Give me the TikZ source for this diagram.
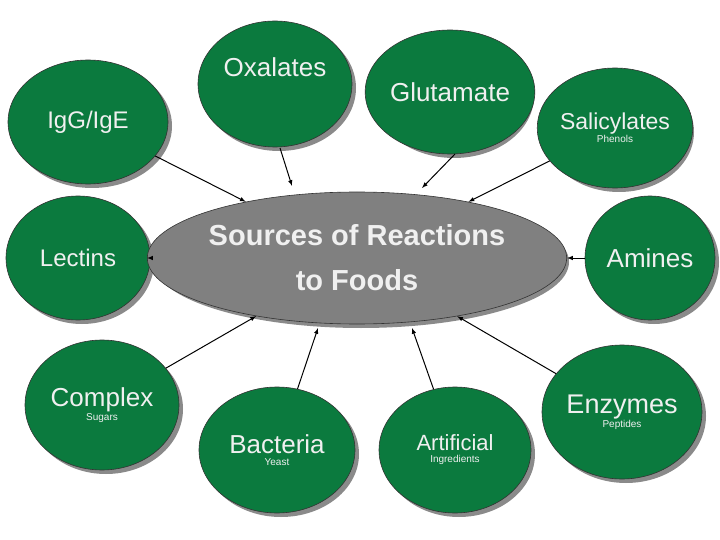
\documentclass[tikz,border=0pt]{standalone}
\usepackage{fontspec}
\setmainfont{Liberation Sans}
\usetikzlibrary{shapes.geometric}
\definecolor{gr}{HTML}{0B7A3E}
\definecolor{shd}{HTML}{8A8A8A}
\begin{document}
\begin{tikzpicture}[x=1pt,y=-1pt,
  blob/.style={draw=black!80,line width=0.6pt,fill=gr,text=white!94!black,align=center,inner sep=0pt},
  conn/.style={-latex,line width=1pt}]
\useasboundingbox (0,0) rectangle (720,540);
\newcommand{\blobat}[6]{%
  \fill[shd] (#1+4,#2+4) ellipse [x radius=#3, y radius=#4];
  \node[blob,ellipse,minimum width=2*#3pt,minimum height=2*#4pt] (#5) at (#1,#2) {#6};}
\blobat{88}{122}{80}{62}{igg}{\fontsize{24}{28}\selectfont IgG/IgE}
\blobat{275}{84}{77}{63}{oxa}{\fontsize{26}{30}\selectfont Oxalates\\[22pt]}
\blobat{450}{92}{80}{62}{glu}{\fontsize{26}{30}\selectfont Glutamate}
\blobat{615}{128}{75}{60}{sal}{\fontsize{23}{29}\selectfont Salicylates\\Phenols}
\blobat{78}{258}{72}{62}{lec}{\fontsize{24}{28}\selectfont Lectins}
\blobat{650}{258}{65}{62}{ami}{\fontsize{26}{30}\selectfont Amines}
\blobat{102}{405}{77}{65}{com}{\fontsize{26}{37}\selectfont Complex\\Sugars}
\blobat{277}{450}{78}{63}{bac}{\fontsize{26}{37}\selectfont Bacteria\\Yeast}
\blobat{455}{450}{76}{63}{art}{\fontsize{22}{34}\selectfont Artificial\\Ingredients}
\blobat{622}{412}{80}{67}{enz}{\fontsize{27}{38}\selectfont Enzymes\\Peptides}
\fill[shd] (361,262) ellipse [x radius=208, y radius=66];
\node[blob,ellipse,fill=gray,minimum width=416pt,minimum height=132pt,font=\bfseries\fontsize{29}{45}\selectfont] (src) at (357,258) {Sources of Reactions\\to Foods};
\coordinate (eoxa) at (292,186);
\coordinate (eglu) at (422,188);
\coordinate (ebac) at (318,328);
\coordinate (eart) at (412,328);
\draw[conn] (280,148) -- (eoxa);
\draw[conn] (igg) -- (src);
\draw[conn] (455,154) -- (eglu);
\draw[conn] (sal) -- (src);
\draw[conn] (lec) -- (src);
\draw[conn] (ami) -- (src);
\draw[conn] (com) -- (src);
\draw[conn] (bac) -- (ebac);
\draw[conn] (art) -- (eart);
\draw[conn] (enz) -- (src);
\end{tikzpicture}
\end{document}
